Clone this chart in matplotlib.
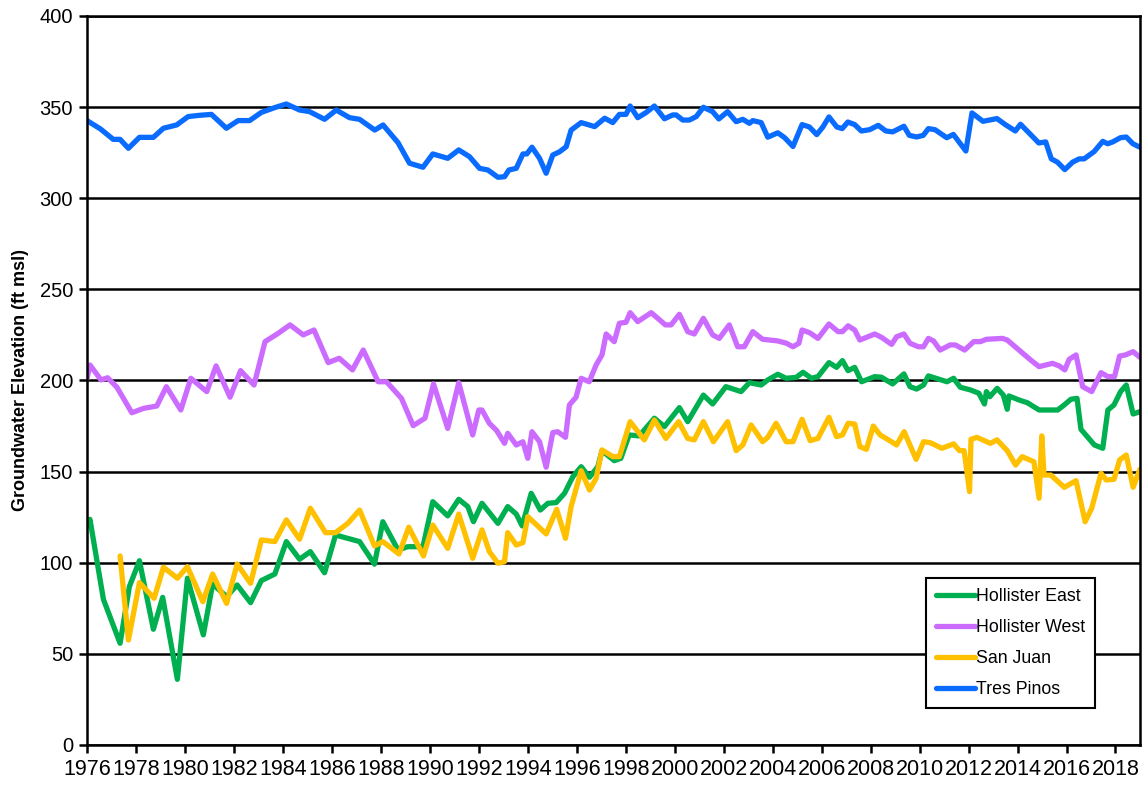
import matplotlib
matplotlib.use("Agg")
import matplotlib.pyplot as plt
import numpy as np

plt.rcParams["font.family"] = ["Liberation Sans", "DejaVu Sans"]

# Hollister East
he_years = [1976.0, 1976.12, 1976.67, 1977.35, 1977.73, 1978.14, 1978.71, 1979.09, 1979.69, 1980.10,
            1980.75, 1981.13, 1981.70, 1982.13, 1982.68, 1983.12, 1983.67, 1984.14, 1984.68, 1985.12,
            1985.70, 1986.15, 1987.13, 1987.74, 1988.08, 1988.70, 1989.10, 1989.72, 1990.12, 1990.73,
            1991.18, 1991.55, 1991.78, 1992.13, 1992.78, 1993.18, 1993.53, 1993.77, 1994.14, 1994.51,
            1994.82, 1995.16, 1995.50, 1995.84, 1996.18, 1996.52, 1996.86, 1997.03, 1997.53, 1997.80,
            1998.14, 1998.55, 1999.17, 1999.58, 2000.19, 2000.53, 2001.17, 2001.55, 2002.09, 2002.71,
            2003.05, 2003.53, 2003.80, 2004.21, 2004.55, 2004.96, 2005.24, 2005.58, 2005.85, 2006.30,
            2006.61, 2006.85, 2007.08, 2007.35, 2007.63, 2008.17, 2008.44, 2008.90, 2009.36, 2009.61,
            2009.88, 2010.16, 2010.36, 2011.12, 2011.39, 2011.66, 2012.08, 2012.42, 2012.65, 2012.73,
            2012.87, 2013.17, 2013.42, 2013.58, 2013.65, 2014.06, 2014.40, 2014.88, 2015.64, 2015.91,
            2016.18, 2016.43, 2016.59, 2017.14, 2017.48, 2017.69, 2017.94, 2018.21, 2018.44, 2018.72,
            2019.0]
he_vals = [120.2, 123.8, 79.9, 55.8, 86.9, 101.1, 63.5, 81.0, 36.0, 91.5,
           60.4, 88.3, 81.4, 87.8, 78.1, 90.2, 93.8, 111.6, 101.9, 106.1,
           94.5, 115.2, 111.6, 99.2, 122.5, 107.0, 108.8, 108.8, 133.5, 125.7,
           134.8, 130.8, 122.5, 132.6, 121.6, 130.8, 126.7, 120.2, 138.1, 128.9,
           132.6, 133.0, 138.1, 147.2, 152.7, 146.9, 152.7, 161.5, 156.0, 157.3,
           170.1, 169.6, 179.3, 174.7, 185.1, 177.4, 192.0, 187.1, 196.6, 193.9,
           198.8, 197.5, 200.3, 203.4, 201.2, 201.7, 204.5, 201.2, 202.1, 209.8,
           207.2, 210.9, 205.4, 207.2, 199.3, 202.1, 201.8, 198.1, 203.6, 196.6,
           195.3, 197.5, 202.5, 199.3, 201.2, 196.3, 194.8, 193.0, 187.1, 193.9,
           191.1, 195.7, 192.0, 184.2, 191.5, 189.3, 187.8, 183.8, 183.8, 186.6,
           189.7, 190.2, 173.2, 164.6, 162.8, 183.8, 186.6, 193.9, 197.5, 181.6,
           182.9]

# Hollister West
hw_years = [1976.0, 1976.12, 1976.57, 1976.84, 1977.22, 1977.83, 1978.31, 1978.85, 1979.24, 1979.83,
            1980.24, 1980.89, 1981.27, 1981.84, 1982.27, 1982.82, 1983.27, 1983.81, 1984.29, 1984.83,
            1985.27, 1985.85, 1986.30, 1986.84, 1987.28, 1987.89, 1988.23, 1988.84, 1989.32, 1989.80,
            1990.15, 1990.73, 1991.18, 1991.75, 1992.00, 1992.13, 1992.43, 1992.73, 1993.05, 1993.18,
            1993.53, 1993.80, 1994.00, 1994.17, 1994.48, 1994.75, 1995.02, 1995.22, 1995.54, 1995.70,
            1995.97, 1996.18, 1996.51, 1996.79, 1997.03, 1997.20, 1997.53, 1997.74, 1998.01, 1998.18,
            1998.49, 1999.04, 1999.62, 1999.85, 2000.19, 2000.53, 2000.80, 2001.17, 2001.55, 2001.82,
            2002.23, 2002.57, 2002.84, 2003.19, 2003.59, 2003.87, 2004.21, 2004.55, 2004.83, 2005.07,
            2005.20, 2005.51, 2005.85, 2006.30, 2006.67, 2006.85, 2007.08, 2007.35, 2007.56, 2008.17,
            2008.44, 2008.86, 2009.06, 2009.36, 2009.61, 2009.95, 2010.16, 2010.36, 2010.57, 2010.84,
            2011.25, 2011.46, 2011.84, 2012.21, 2012.48, 2012.73, 2013.00, 2013.38, 2013.58, 2014.06,
            2014.54, 2014.88, 2015.43, 2015.70, 2015.93, 2016.11, 2016.39, 2016.66, 2017.03, 2017.41,
            2017.69, 2017.96, 2018.17, 2018.40, 2018.72, 2019.0]
hw_vals = [201.0, 208.5, 200.3, 201.5, 196.3, 182.3, 184.7, 186.0, 196.6, 183.8,
           201.2, 193.9, 208.0, 190.8, 205.4, 197.5, 221.3, 225.9, 230.5, 225.0,
           227.7, 209.8, 212.2, 205.8, 216.7, 199.3, 199.3, 190.2, 175.2, 179.3,
           198.1, 173.7, 198.8, 170.1, 183.8, 183.8, 176.5, 172.5, 165.5, 171.0,
           164.6, 166.4, 157.3, 171.9, 166.4, 152.4, 171.4, 171.9, 168.8, 186.6,
           190.8, 201.2, 199.3, 208.5, 214.0, 225.5, 221.3, 231.4, 231.9, 237.2,
           232.3, 237.2, 230.5, 230.5, 236.3, 226.8, 225.5, 234.1, 225.0, 223.1,
           230.5, 218.5, 218.5, 226.8, 222.6, 222.2, 221.7, 220.5, 218.5, 220.4,
           227.7, 226.2, 223.1, 231.0, 226.8, 226.8, 230.0, 227.7, 222.2, 225.5,
           223.7, 219.8, 224.0, 225.5, 220.4, 218.5, 218.5, 223.1, 221.7, 216.7,
           219.5, 219.5, 216.7, 221.3, 221.3, 222.6, 222.8, 223.1, 222.2, 216.7,
           211.2, 207.6, 209.4, 208.0, 205.8, 211.6, 214.0, 196.6, 193.9, 204.3,
           202.1, 202.1, 213.4, 214.0, 215.8, 212.7]

# San Juan
sj_years = [1977.35, 1977.69, 1978.14, 1978.74, 1979.12, 1979.69, 1980.10, 1980.73, 1981.13, 1981.70,
            1982.13, 1982.68, 1983.12, 1983.67, 1984.14, 1984.68, 1985.12, 1985.74, 1986.15, 1986.65,
            1987.13, 1987.74, 1988.08, 1988.74, 1989.14, 1989.74, 1990.12, 1990.73, 1991.18, 1991.75,
            1992.13, 1992.43, 1992.78, 1993.05, 1993.18, 1993.53, 1993.80, 1994.00, 1994.75, 1995.18,
            1995.54, 1995.77, 1996.18, 1996.52, 1996.79, 1997.03, 1997.47, 1997.74, 1998.18, 1998.76,
            1999.17, 1999.64, 2000.16, 2000.53, 2000.80, 2001.17, 2001.58, 2002.16, 2002.51, 2002.78,
            2003.12, 2003.59, 2003.80, 2004.14, 2004.55, 2004.83, 2005.20, 2005.53, 2005.85, 2006.30,
            2006.61, 2006.85, 2007.08, 2007.35, 2007.56, 2007.83, 2008.11, 2008.39, 2008.73, 2009.06,
            2009.37, 2009.86, 2010.16, 2010.43, 2010.91, 2011.39, 2011.63, 2011.82, 2012.04, 2012.10,
            2012.34, 2012.89, 2013.16, 2013.58, 2013.92, 2014.19, 2014.67, 2014.88, 2014.99, 2015.08,
            2015.36, 2015.91, 2016.39, 2016.76, 2017.03, 2017.41, 2017.62, 2017.94, 2018.17, 2018.44,
            2018.72, 2019.0]
sj_vals = [103.7, 57.6, 89.1, 80.5, 97.5, 91.5, 97.8, 78.6, 93.8, 77.7,
           99.3, 88.7, 112.5, 111.6, 123.5, 112.9, 129.9, 116.5, 116.5, 121.6,
           128.9, 109.2, 111.6, 104.8, 119.5, 103.7, 120.7, 107.9, 126.7, 102.4,
           118.0, 106.1, 99.7, 100.6, 116.5, 109.7, 111.0, 125.3, 115.8, 129.3,
           113.4, 130.8, 150.5, 139.9, 146.3, 161.9, 158.2, 158.2, 177.4, 167.4,
           178.3, 168.2, 177.4, 168.2, 167.4, 177.4, 166.4, 177.4, 161.5, 164.6,
           175.6, 166.4, 168.8, 176.5, 166.4, 166.4, 178.7, 167.0, 168.2, 179.8,
           169.2, 170.1, 176.5, 176.1, 163.7, 162.2, 175.0, 170.1, 167.4, 164.6,
           171.9, 156.7, 166.4, 165.9, 162.8, 165.2, 161.5, 161.5, 139.0, 167.7,
           168.8, 165.5, 167.4, 161.5, 153.6, 158.2, 155.4, 135.4, 169.6, 148.1,
           148.1, 141.4, 145.0, 122.5, 129.9, 149.1, 145.4, 145.8, 156.4, 159.1,
           141.4, 151.3]

# Tres Pinos
tp_years = [1976.0, 1976.55, 1977.07, 1977.35, 1977.69, 1978.14, 1978.71, 1979.12, 1979.66, 1980.13,
            1980.60, 1981.08, 1981.69, 1982.17, 1982.64, 1983.12, 1983.66, 1984.14, 1984.68, 1985.09,
            1985.70, 1986.18, 1986.72, 1987.13, 1987.75, 1988.09, 1988.70, 1989.17, 1989.72, 1990.12,
            1990.73, 1991.18, 1991.62, 1992.03, 1992.37, 1992.78, 1993.05, 1993.23, 1993.53, 1993.80,
            1993.96, 1994.17, 1994.48, 1994.75, 1995.02, 1995.30, 1995.57, 1995.77, 1996.18, 1996.73,
            1997.14, 1997.47, 1997.74, 1998.01, 1998.18, 1998.49, 1998.83, 1999.17, 1999.58, 1999.92,
            2000.06, 2000.33, 2000.60, 2000.88, 2001.17, 2001.55, 2001.80, 2002.16, 2002.51, 2002.78,
            2003.05, 2003.19, 2003.53, 2003.80, 2004.21, 2004.49, 2004.83, 2005.20, 2005.50, 2005.80,
            2006.05, 2006.30, 2006.62, 2006.84, 2007.07, 2007.35, 2007.62, 2007.96, 2008.31, 2008.62,
            2008.90, 2009.36, 2009.58, 2009.88, 2010.15, 2010.36, 2010.63, 2011.11, 2011.38, 2011.89,
            2012.14, 2012.59, 2013.16, 2013.50, 2013.91, 2014.12, 2014.53, 2014.87, 2015.15, 2015.38,
            2015.63, 2015.93, 2016.25, 2016.52, 2016.72, 2017.13, 2017.48, 2017.68, 2017.89, 2018.20,
            2018.44, 2018.71, 2018.98]
tp_vals = [342.6, 338.0, 332.3, 332.3, 327.4, 333.4, 333.4, 338.4, 340.2, 344.8,
           345.5, 346.0, 338.4, 342.6, 342.6, 347.1, 349.7, 351.7, 348.4, 347.5,
           343.3, 348.4, 344.2, 343.3, 337.4, 340.2, 330.5, 319.2, 317.0, 324.3,
           321.9, 326.5, 322.8, 316.4, 315.5, 311.5, 311.8, 315.5, 316.4, 324.3,
           324.3, 328.0, 321.9, 313.7, 323.7, 325.5, 328.3, 337.4, 341.5, 339.3,
           343.9, 341.5, 346.0, 346.0, 350.6, 344.2, 347.0, 350.6, 343.6, 345.7,
           345.7, 342.9, 342.9, 344.8, 349.9, 347.5, 343.5, 347.5, 342.0, 343.3,
           341.1, 342.6, 341.5, 333.5, 335.9, 333.2, 328.4, 340.4, 339.1, 334.9,
           339.1, 344.6, 339.1, 338.2, 341.8, 340.4, 336.9, 337.6, 340.0, 336.9,
           336.4, 339.5, 334.5, 333.6, 334.5, 338.2, 337.6, 333.2, 335.0, 325.9,
           346.8, 342.2, 343.7, 340.4, 336.9, 340.6, 335.0, 330.3, 330.9, 321.6,
           319.8, 315.7, 319.8, 321.6, 321.6, 325.6, 331.2, 329.9, 330.9, 333.2,
           333.6, 329.9, 328.1]

series_names = ["Hollister East", "Hollister West", "San Juan", "Tres Pinos"]
series_colors = ["#00B050", "#CC6BFF", "#FFC000", "#0A6CFF"]

x_ticks = list(range(1976, 2019, 2))
y_ticks = list(range(0, 401, 50))

fig = plt.figure(figsize=(11.48, 7.87), dpi=100)
ax = fig.add_axes([0.0758, 0.0534, 0.9172, 0.9263])

for yrs, vals, name, color in zip([he_years, hw_years, sj_years, tp_years],
                                  [he_vals, hw_vals, sj_vals, tp_vals],
                                  series_names, series_colors):
    ax.plot(yrs, vals, color=color, lw=3.8, label=name,
            solid_joinstyle="round", solid_capstyle="round")

ax.set_xlim(1976, 2019)
ax.set_ylim(0, 400)
ax.set_xticks(x_ticks)
ax.set_xticklabels([str(t) for t in x_ticks], fontsize=15.5)
ax.set_yticks(y_ticks)
ax.set_yticklabels([str(t) for t in y_ticks], fontsize=14.5)
ax.tick_params(axis="both", direction="out", length=6, width=1.8, color="black")
ax.tick_params(axis="x", pad=4)
ax.tick_params(axis="y", pad=4)

ax.grid(axis="y", color="black", lw=1.8)
ax.set_axisbelow(True)
for s in ax.spines.values():
    s.set_color("black")
    s.set_linewidth(1.8)

ax.set_ylabel("Groundwater Elevation (ft msl)", fontsize=13, fontweight="bold", labelpad=8)

# legend box in lower right, inside the plot
leg = ax.legend(loc="upper left", bbox_to_anchor=(0.797, 0.229), borderaxespad=0,
                fontsize=12.8, frameon=True, fancybox=False, framealpha=1, edgecolor="black",
                handlelength=2.2, handletextpad=0.05, labelspacing=0.8, borderpad=0.55)
leg.get_frame().set_linewidth(1.5)
for line in leg.get_lines():
    line.set_linewidth(3.8)

fig.savefig("out.png", dpi=100)
